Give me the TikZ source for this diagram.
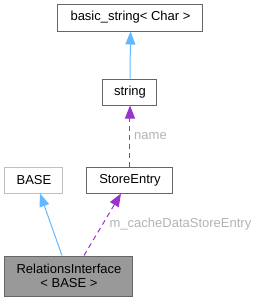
\documentclass[tikz,border=0pt]{standalone}
\usepackage{fontspec}
\setmainfont{Liberation Sans}
\usetikzlibrary{arrows.meta}
\definecolor{boxline}{HTML}{666666}
\definecolor{lightline}{HTML}{BFBFBF}
\definecolor{focusfill}{HTML}{999999}
\definecolor{inherit}{HTML}{63B8FF}
\definecolor{usage}{HTML}{9A32CD}
\definecolor{lbl}{HTML}{B3B3B3}
\begin{document}
\begin{tikzpicture}[x=1pt,y=-1pt,
  every node/.style={font=\fontsize{13}{14}\selectfont, inner sep=0pt, text=black},
  cls/.style={draw=boxline, line width=1pt, fill=white, align=center},
  inh/.style={draw=inherit, line width=1pt, -{Triangle[length=13pt,width=10pt,fill=inherit]}},
  use/.style={draw=usage, line width=1pt, dash pattern=on 5pt off 4pt, -{Triangle[length=13pt,width=10pt,fill=usage]}},
  elabel/.style={text=lbl}]
\useasboundingbox (0,0) rectangle (259,301);
\node[cls, minimum width=145pt, minimum height=27pt] (bs) at (130.5,17.5) {basic\_string< Char >};
\node[cls, minimum width=54pt, minimum height=26pt] (str) at (130,92) {string};
\node[cls, minimum width=86pt, minimum height=26pt] (se) at (130,180) {StoreEntry};
\node[cls, draw=lightline, minimum width=58pt, minimum height=26pt] (base) at (34,180) {BASE};
\node[cls, fill=focusfill, minimum width=128pt, minimum height=40pt] (ri) at (69,276) {RelationsInterface\\< BASE >};
\draw[inh] (str.north) -- (bs.south);
\draw[use] (se.north) -- (str.south);
\draw[inh] ([xshift=-7pt]ri.north) -- ([xshift=6pt]base.south);
\draw[use] ([xshift=15pt]ri.north) -- ([xshift=-9pt]se.south);
\node[elabel] (lname) at (150.5,136) {name};
\node[elabel] (lcache) at (180.5,224) {m\_cacheDataStoreEntry};
\end{tikzpicture}
\end{document}
